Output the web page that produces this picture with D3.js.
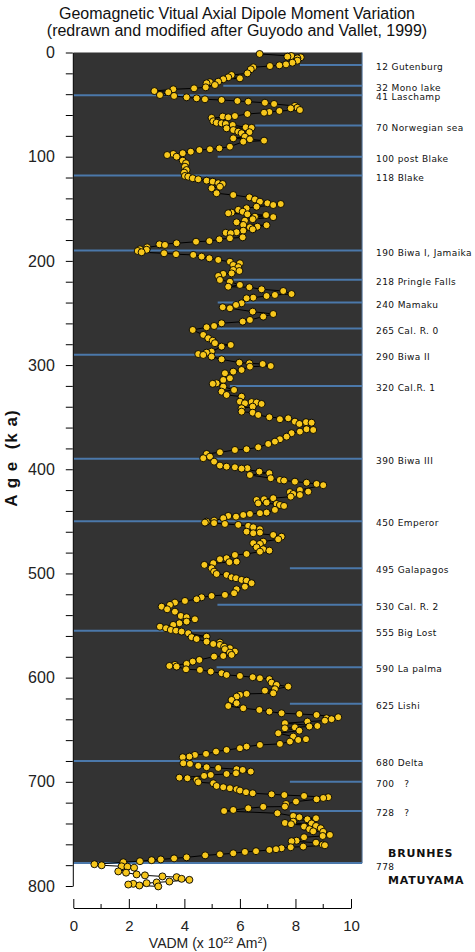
<!DOCTYPE html>
<html><head><meta charset="utf-8">
<script src="https://cdn.jsdelivr.net/npm/d3@7"></script>
<style>body{margin:0;background:#fff}svg{display:block}</style>
</head><body><svg id="c" width="475" height="952"></svg>
<script>
// ---- data ----
const samples = [[1.4,6.71],[3.4,7.85],[4,7.71],[4.6,8.19],[5.6,8.07],[7.8,8.07],[9.8,7.89],[11.4,7.66],[12.3,7.42],[13,7.08],[14.2,6.48],[16.1,6.39],[20,6.27],[21.6,5.70],[23.8,5.58],[24.8,6.0],[25.7,5.40],[28,5.22],[28.5,4.92],[29.6,4.80],[31.2,5.10],[33.4,4.77],[34.4,4.35],[35.3,3.60],[37,2.92],[38.2,3.42],[40.8,3.12],[41.7,3.63],[43,4.08],[44,4.44],[44.9,4.74],[45.6,5.34],[46.5,5.91],[47.2,6.30],[48.2,6.90],[49.4,7.23],[51.3,7.98],[53,8.07],[53.6,7.83],[55.2,8.16],[56.1,7.42],[57.1,7.06],[57.8,6.87],[59,6.27],[61,5.82],[61.5,5.38],[62.2,5.58],[62.7,4.98],[66,5.04],[67.4,5.16],[68,5.34],[68.6,5.49],[69.6,5.74],[71.8,6.21],[72.3,6.42],[72.8,5.52],[74.4,5.76],[76,5.94],[76.5,6.34],[77.5,6.06],[80.8,6.18],[82.4,5.76],[83.3,6.36],[84.6,6.87],[85.6,6.12],[90.4,5.64],[92,5.26],[92.9,4.92],[93.6,4.54],[95.2,4.23],[96.7,3.94],[97.4,3.60],[98.4,3.38],[100,3.72],[103.8,3.94],[106.3,4.06],[109.6,4.02],[112.8,4.08],[115.3,3.99],[118.5,4.02],[119.2,4.14],[120.7,4.30],[121.7,4.50],[123,4.80],[124,5.02],[125.5,5.22],[126.2,5.38],[128.8,5.28],[130.3,4.98],[135.1,5.16],[136.8,5.76],[139,6.34],[141,6.54],[143.2,6.72],[144.7,6.99],[145.4,7.47],[146.4,7.2],[148,6.6],[149.5,6.24],[151,5.94],[152.8,6.1],[153.7,5.70],[154.3,5.58],[155.3,6.27],[156,6.94],[157.6,6.54],[158,7.2],[160,6.46],[161.4,6.18],[163,5.88],[165.5,6.12],[165.8,6.96],[167.2,6.63],[167.8,6.36],[169.7,6.46],[171,6.12],[172.5,5.88],[173,5.49],[173.5,5.67],[177.4,6.1],[178.3,5.64],[179.3,5.26],[181,4.90],[181.6,4.42],[183.1,3.72],[184.1,3.10],[184.7,3.30],[187,2.66],[188.9,2.40],[189.3,2.64],[190.5,2.32],[191.7,2.46],[192.7,3.27],[193.6,3.70],[194.3,4.32],[195.9,4.62],[197.5,4.90],[199.1,5.22],[200.8,5.64],[202.3,6.0],[204,5.76],[206,5.94],[208.7,5.76],[209.7,5.98],[212,5.70],[212.5,5.40],[214.5,5.22],[218.3,5.28],[220,5.64],[223.1,6.0],[224.8,5.58],[225.3,6.34],[227.3,6.78],[228.9,7.56],[231.8,7.86],[232.7,7.26],[233.7,6.96],[235.3,6.48],[235.9,6.24],[240.7,6.06],[242.3,5.86],[244.5,5.38],[245.5,5.64],[248.7,6.46],[251,7.2],[253.5,6.84],[256.7,6.36],[258.3,6.1],[259.9,5.34],[262.5,5.07],[263.7,4.80],[266.3,4.30],[271.1,4.68],[274.3,4.86],[276.6,5.02],[279,5.10],[280.7,5.67],[282.3,5.34],[287.1,4.98],[288.1,4.80],[289.4,4.50],[290.3,4.68],[291.9,4.98],[294.5,5.34],[297.7,5.98],[298.3,6.34],[299,6.82],[300.9,7.11],[301.5,6.36],[304.7,6.06],[306.3,5.76],[307.9,5.46],[312.7,5.64],[314.3,5.40],[317.5,5.16],[318,5.02],[320.7,5.40],[323.9,5.79],[325.5,5.34],[328.7,5.52],[330.3,6.06],[335.1,6.0],[335.5,6.42],[336,6.6],[336.7,6.18],[337.3,6.78],[339.9,6.46],[341.5,6.06],[344.7,6.06],[345.7,6.46],[347.9,6.66],[350.1,7.06],[351.1,7.74],[352,7.44],[354.3,7.98],[354.8,8.38],[355.3,8.58],[356.5,8.14],[361.6,8.40],[362.3,8.64],[363.9,8.16],[365.4,7.86],[368.7,7.68],[371.2,7.44],[373.5,7.26],[375.7,7.02],[378.9,6.66],[380.8,6.24],[381.5,5.82],[383.7,5.28],[385.3,4.80],[387.9,4.92],[389.4,4.68],[392.7,5.07],[396.5,5.28],[397.5,5.52],[398.1,5.82],[399,6.27],[399.4,6.06],[402.3,6.70],[403.8,7.06],[405.5,6.36],[408.6,7.11],[410.3,7.44],[410.8,7.59],[411.9,7.98],[412.9,8.40],[414.1,8.76],[415.3,9.0],[419.9,8.16],[421.5,8.46],[422,7.8],[423.7,7.92],[424.7,8.16],[426.3,7.83],[427.8,7.20],[428.8,6.87],[429.5,6.60],[432,6.96],[432.7,6.66],[433.3,7.32],[434.3,7.44],[435.2,7.59],[439,7.26],[441.6,6.96],[442.2,6.72],[442.9,6.36],[443.9,6.12],[444.8,5.58],[445.5,5.86],[447,5.40],[449.3,5.07],[450.3,4.80],[451.2,4.74],[451.7,5.07],[452.5,5.46],[453.4,5.94],[454.4,6.30],[455.7,6.48],[457.6,6.72],[459.9,6.24],[460.8,6.72],[461.4,6.48],[463.1,7.20],[464.7,7.50],[467.2,7.38],[469.5,6.84],[471,6.48],[471.7,6.72],[474.9,6.60],[476.8,6.84],[478.1,7.06],[479.1,6.72],[481.3,6.24],[482.3,5.82],[485.4,5.52],[486.4,5.28],[488.7,5.88],[489.2,5.62],[490.2,5.04],[491.8,4.72],[495,4.98],[498.3,5.07],[500.5,5.16],[501.4,5.52],[503.7,5.70],[504.6,5.86],[506.2,6.06],[506.9,6.24],[509.4,6.42],[512.7,6.18],[515.2,5.88],[519,5.79],[520.6,5.46],[521.6,4.98],[522.9,4.62],[524.8,4.44],[526.4,4.02],[528,3.66],[530.2,3.48],[531.9,3.18],[534.4,3.38],[536.7,3.66],[540.8,3.87],[542,4.08],[544,4.38],[546.2,4.08],[547.8,3.82],[549.4,3.60],[551.1,3.12],[552.6,3.34],[554.2,3.51],[554.9,3.70],[555.8,3.90],[557.4,4.14],[560.7,4.80],[561.2,4.26],[562.9,4.44],[565.5,4.80],[566.3,5.28],[567.7,5.04],[568.6,5.28],[570.3,5.43],[571.8,5.64],[572.7,5.46],[575,5.82],[576,5.64],[578.2,5.70],[579.2,5.40],[579.8,5.07],[583,4.54],[584.6,4.30],[586.8,4.08],[587.8,3.66],[588.8,3.46],[589.4,3.72],[592,4.06],[592.6,4.56],[594.2,4.95],[595.8,5.34],[597.4,5.52],[598.4,6.0],[599.6,6.46],[600.6,6.72],[601.5,7.06],[604.8,7.14],[607,7.32],[608.6,7.74],[611.1,7.26],[612.5,6.90],[615,7.20],[615.6,6.24],[616.6,6.0],[618.2,5.88],[621.4,5.70],[624.6,5.88],[627.2,5.58],[629.4,6.12],[631,6.70],[632.6,7.06],[634.2,7.50],[634.9,8.14],[635.8,8.76],[638,9.54],[639,9.12],[639.9,9.30],[641.3,9.06],[642.2,8.43],[643.8,7.62],[646.4,8.79],[646.9,8.50],[647.7,7.98],[648.6,7.62],[650.9,8.14],[653.4,7.38],[656.6,7.92],[659.1,8.38],[659.8,8.10],[661.4,7.80],[663.6,7.44],[664.6,6.72],[666.2,6.24],[667.8,6.0],[669.4,5.52],[671,5.14],[673.2,4.78],[674.2,4.38],[675.8,4.18],[676.4,3.94],[682.2,3.96],[682.8,4.20],[684.7,4.50],[686,4.80],[686.7,5.22],[687.9,5.88],[688.6,6.10],[690.2,6.39],[691.8,5.86],[692.5,5.52],[693.4,4.95],[694.3,4.71],[696,3.82],[696.6,4.11],[698.2,4.44],[700.4,4.50],[701.4,5.04],[704,5.16],[705.2,5.40],[706.2,5.64],[707.1,5.88],[708.4,6.0],[710,6.22],[711,6.46],[712,7.14],[712.7,7.60],[713.6,8.31],[714.8,9.18],[715.5,9.0],[716.8,8.76],[719,8.02],[721.3,7.66],[723.8,7.62],[724,6.84],[725.4,6.30],[727,5.76],[728,5.43],[730.2,7.35],[732.8,7.92],[734,8.14],[735,8.74],[736,8.43],[738.2,7.92],[739.5,7.62],[740,8.58],[740.7,7.84],[742.4,8.74],[743,8.31],[744.6,8.91],[745.5,8.50],[747.5,8.64],[748,9.0],[751,9.24],[752,8.98],[753.2,8.31],[756.5,8.04],[757,7.86],[758.4,8.74],[760.3,8.98],[760.9,9.06],[762.2,8.28],[762.8,7.83],[763.8,7.50],[764.7,7.30],[765.4,7.06],[766.6,6.58],[767.3,6.18],[768.6,5.76],[769.6,5.28],[770.6,4.75],[772.5,4.08],[773.5,3.63],[774.5,3.15],[775.2,2.82],[776.2,2.40],[777.2,1.80],[779.1,0.76],[780.1,1.02],[781.1,1.74],[781.5,1.95],[782.4,2.19],[786,1.62],[787.2,1.90],[788.9,2.28],[789.8,2.58],[790.8,3.21],[791.5,3.72],[793.1,3.90],[794.1,4.18],[795.7,3.46],[796.6,3.0],[797.3,2.64],[797.9,2.16],[798.6,1.98],[799.5,2.38],[800.4,3.06]];

const eventAges  = [12,32,41,70,100,118,190,218,240,265,290,320,390,450,495,530,555,590,625,680,700,728];
const eventNames = ["12 Gutenburg","32 Mono lake","41 Laschamp","70 Norwegian sea","100 post Blake","118 Blake","190 Biwa I, Jamaika","218 Pringle Falls","240 Mamaku","265 Cal. R. 0","290 Biwa II","320 Cal.R. 1","390 Biwa III","450 Emperor","495 Galapagos","530 Cal. R. 2","555 Big Lost","590 La palma","625 Lishi","680 Delta","700   ?","728   ?"];
const eventStartVADM = [8.16,5.4,0,6.55,5.2,0,0,5.76,5.2,5.16,0,5.64,0,0,7.8,5.19,0,5.16,7.8,0,7.8,7.8];
const boundaryAge = 778;
const yMajorTicks = [0,100,200,300,400,500,600,700,800];
const xMajorTicks = [0,2,4,6,8,10];
const xMinorTicks = [1,3,5,7,9];

// ---- scales ----
const svg = d3.select("#c");
const x = d3.scaleLinear().domain([0,10]).range([73.3,351]);
const y = d3.scaleLinear().domain([0,800]).range([52.5,886]);
const xRight = x(10.4);

// title
const title = svg.append("g").attr("font-family","Liberation Sans, Arial, sans-serif").attr("font-size",16).attr("fill","#111").attr("text-anchor","middle");
title.append("text").attr("x",237).attr("y",18.5).text("Geomagnetic Vitual Axial Dipole Moment Variation");
title.append("text").attr("x",237).attr("y",36).text("(redrawn and modified after Guyodo and Vallet, 1999)");

// dark panel
svg.append("rect").attr("x",x(0)).attr("y",y(0)).attr("width",xRight-x(0)).attr("height",y(boundaryAge)-y(0)).attr("fill","#333333");
svg.append("line").attr("x1",xRight).attr("x2",xRight).attr("y1",y(0)).attr("y2",y(boundaryAge)).attr("stroke","#5d7fa6").attr("stroke-width",1);

// event lines
svg.append("g").selectAll("line").data(eventAges).join("line")
  .attr("x1",(d,i)=>x(eventStartVADM[i])).attr("x2",xRight)
  .attr("y1",d=>y(d)).attr("y2",d=>y(d))
  .attr("stroke","#4b78aa").attr("stroke-width",2);
svg.append("line").attr("x1",x(0)).attr("x2",xRight).attr("y1",y(boundaryAge)).attr("y2",y(boundaryAge)).attr("stroke","#4b78aa").attr("stroke-width",2);

// event labels
const lab = svg.append("g").attr("font-family","DejaVu Sans, Verdana, sans-serif").attr("font-size",9).attr("fill","#111").attr("letter-spacing",0.4);
lab.selectAll("text").data(eventAges).join("text")
  .attr("x",376).attr("y",d=>y(d)+2).attr("dy","0.35em")
  .attr("xml:space","preserve").style("white-space","pre")
  .text((d,i)=>eventNames[i]);
lab.append("text").attr("x",376).attr("y",y(boundaryAge)+4).attr("dy","0.35em").text(String(boundaryAge));
const bold = svg.append("g").attr("font-family","DejaVu Sans, Verdana, sans-serif").attr("font-size",11).attr("font-weight","bold").attr("fill","#111").attr("letter-spacing",0.8);
bold.append("text").attr("x",388).attr("y",y(boundaryAge)-10).attr("dy","0.35em").text("BRUNHES");
bold.append("text").attr("x",388).attr("y",y(boundaryAge)+17).attr("dy","0.35em").text("MATUYAMA");

// data line + points
const pts = samples.map(d=>({age:d[0], v:d[1]}));
svg.append("path").datum(pts)
  .attr("d", d3.line().x(d=>x(d.v)).y(d=>y(d.age)))
  .attr("fill","none").attr("stroke","#000").attr("stroke-width",1);
svg.append("g").selectAll("circle").data(pts).join("circle")
  .attr("cx",d=>x(d.v)).attr("cy",d=>y(d.age)).attr("r",3.5)
  .attr("fill","#f7c71c").attr("stroke","#000").attr("stroke-width",0.9);

// y axis
const yAxis = d3.axisLeft(y).tickValues(d3.range(0,801,20)).tickSize(7).tickSizeOuter(0).tickPadding(11)
  .tickFormat(d=> yMajorTicks.includes(d) ? String(d) : "");
const gy = svg.append("g").attr("transform",`translate(${x(0)-0.5},0)`).call(yAxis);
gy.selectAll("text").attr("font-family","Liberation Sans, Arial, sans-serif").attr("font-size",16).attr("fill","#222");
gy.select(".domain").attr("stroke","#000");

// x axis
const xAxisY = 908;
const xAxis = d3.axisBottom(x).tickValues(xMajorTicks).tickSize(-9).tickSizeOuter(0).tickPadding(12).tickFormat(d3.format("d"));
const gx = svg.append("g").attr("transform",`translate(0,${xAxisY})`).call(xAxis);
gx.selectAll("text").attr("font-family","Liberation Sans, Arial, sans-serif").attr("font-size",15).attr("fill","#222");
gx.append("g").selectAll("line").data(xMinorTicks).join("line")
  .attr("x1",d=>x(d)).attr("x2",d=>x(d)).attr("y1",0).attr("y2",-4).attr("stroke","#000");

// axis titles
const xt = svg.append("text").attr("x",208).attr("y",948).attr("text-anchor","middle")
  .attr("font-family","Liberation Sans, Arial, sans-serif").attr("font-size",14).attr("fill","#222");
xt.append("tspan").text("VADM (x 10");
xt.append("tspan").attr("font-size",9).attr("dy",-5).text("22");
xt.append("tspan").attr("dy",5).text(" Am");
xt.append("tspan").attr("font-size",9).attr("dy",-5).text("2");
xt.append("tspan").attr("dy",5).text(")");

svg.append("text").attr("transform","translate(17,458) rotate(-90)").attr("text-anchor","middle")
  .attr("font-family","Liberation Sans, Arial, sans-serif").attr("font-size",17).attr("font-weight","bold").attr("fill","#111")
  .attr("letter-spacing",1)
  .attr("xml:space","preserve").style("white-space","pre").text("A g e  (k a)");
</script></body></html>
